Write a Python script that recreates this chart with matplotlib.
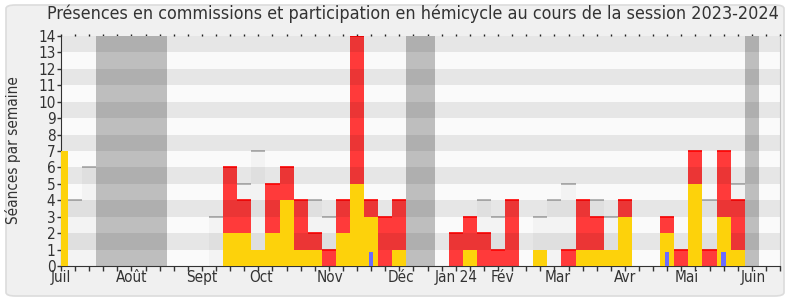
"""
Présences en commissions et participation en hémicycle, session 2023-2024.
"""

import numpy as np
import matplotlib
matplotlib.use("Agg")
import matplotlib.pyplot as plt
from matplotlib.patches import FancyBboxPatch

plt.rcParams["font.family"] = ["DejaVu Sans"]
plt.rcParams["font.stretch"] = "condensed"

# ------------------------------------------------------------------
# Data (one value per week, week 0 = first week of July 2023)
# ------------------------------------------------------------------

N_WEEKS = 52

# weeks of parliamentary holidays
vacances = [3, 4, 5, 6, 7, 25, 26, 49]

# yellow: commission presences
commission = [7, 0, 0, 0, 0, 0, 0, 0, 0, 0,
              0, 0, 2, 2, 1, 2, 4, 1, 1, 0,
              2, 5, 3, 0, 1, 0, 0, 0, 0, 1,
              0, 0, 0, 0, 1, 0, 0, 1, 1, 1,
              3, 0, 0, 2, 0, 5, 0, 3, 1, 0,
              0, 0]

# red: participation in hemicycle
hemicycle = [0, 0, 0, 0, 0, 0, 0, 0, 0, 0,
             0, 0, 6, 4, 0, 5, 6, 4, 2, 1,
             4, 14, 4, 3, 4, 0, 0, 0, 2, 3,
             2, 1, 4, 0, 0, 0, 1, 4, 3, 0,
             4, 0, 0, 3, 1, 7, 1, 7, 4, 0,
             0, 0]

# light grey: séances held (only where visible above the colours)
seances = [0, 4, 6, 0, 0, 0, 0, 0, 0, 0,
           0, 3, 0, 5, 7, 0, 0, 0, 4, 3,
           0, 0, 0, 0, 0, 0, 0, 0, 0, 0,
           4, 3, 0, 0, 3, 4, 5, 0, 4, 3,
           0, 0, 0, 0, 0, 0, 4, 0, 5, 0,
           0, 0]

# blue: questions
questions = {22: 0.85, 43: 0.85, 47: 0.85}

month_labels = ["Juil", "Août", "Sept", "Oct", "Nov", "Déc",
                "Jan 24", "Fév", "Mar", "Avr", "Mai", "Juin"]
month_pos = [0, 5, 10, 14.2, 19.1, 24.1, 28, 31.3, 35.2, 40, 44.4, 49.1]

# ------------------------------------------------------------------
# Plot
# ------------------------------------------------------------------

W, H = 790, 300
fig = plt.figure(figsize=(W / 100, H / 100), dpi=100)
fig.patch.set_facecolor("white")
box = FancyBboxPatch((6 / W, 4 / H), 778 / W, 291 / H,
                     boxstyle="round,pad=0,rounding_size=0.012",
                     transform=fig.transFigure, facecolor="#f0f0f0",
                     edgecolor="#dcdcdc", lw=1.2, zorder=-10)
fig.patches.append(box)

ax = fig.add_axes([61 / W, 1 - 266 / H, 719 / W, 230 / H])
ax.set_facecolor("#fafafa")

weeks = np.arange(N_WEEKS)

# holidays
for v in vacances:
    ax.axvspan(v - 0.5, v + 0.5, color="#bebebe", lw=0, zorder=1)

# séances (light grey bars with a grey top line)
seances = np.array(seances)
ax.bar(weeks, seances, width=1.0, color="#f3f3f3", lw=0, zorder=1.5)
sel = seances > 0
ax.hlines(seances[sel], weeks[sel] - 0.5, weeks[sel] + 0.5,
          color="#a8a8a8", lw=1.2, zorder=1.6)

# hemicycle (red)
hemicycle = np.array(hemicycle)
ax.bar(weeks, hemicycle, width=1.0, color="#ff3a3a", lw=0, zorder=2)
sel = hemicycle > 0
ax.hlines(hemicycle[sel], weeks[sel] - 0.5, weeks[sel] + 0.5,
          color="#ff0000", lw=1.2, zorder=2.1)

# horizontal stripes (on top of the grey / red, below the yellow)
for y in range(1, 14, 2):
    ax.axhspan(y, y + 1, color="black", alpha=0.08, lw=0, zorder=3)

# commission (yellow)
ax.bar(weeks, commission, width=1.0, color="#fdd20b", lw=0, zorder=4)

# questions (blue)
ax.bar(list(questions.keys()), list(questions.values()), width=0.3,
       color="#6b6bff", lw=0, zorder=5)

ax.set_xlim(0, N_WEEKS - 1)
ax.set_ylim(0, 14)

# axes styling
ax.spines["top"].set_visible(False)
ax.spines["right"].set_color("#c8c8c8")
ax.spines["left"].set_color("#333333")
ax.spines["bottom"].set_color("#333333")

ax.set_yticks(range(0, 15))
ax.tick_params(axis="y", length=3, width=1, color="#333333", pad=1,
               labelsize=11, labelcolor="#333333")

ax.set_xticks(weeks)
ax.set_xticklabels([])
ax.tick_params(axis="x", which="major", length=3.6, width=1,
               color="#333333")
ax.xaxis.remove_overlapping_locs = False
ax.set_xticks(month_pos, minor=True)
ax.set_xticklabels(month_labels, minor=True)
ax.tick_params(axis="x", which="minor", length=0, pad=3,
               labelsize=11, labelcolor="#333333")

top = ax.secondary_xaxis("top")
top.set_xticks(weeks)
top.set_xticklabels([])
top.tick_params(length=1.5, width=1, color="#222222")
top.spines["top"].set_visible(False)

fig.text(13 / W, 1 - 150 / H, "Séances par semaine", rotation=90,
         ha="center", va="center", fontsize=11, color="#333333")
fig.text(413 / W, 1 - 14 / H,
         "Présences en commissions et participation en hémicycle "
         "au cours de la session 2023-2024",
         ha="center", va="center", fontsize=12.9, color="#333333")

fig.savefig("out.png", dpi=100, facecolor=fig.get_facecolor())
